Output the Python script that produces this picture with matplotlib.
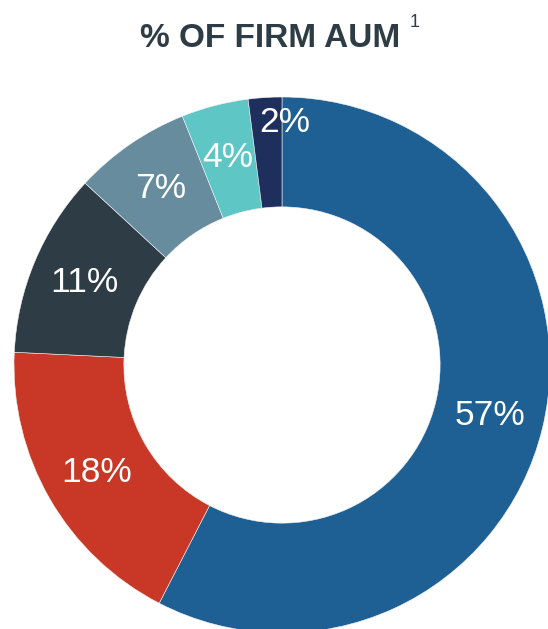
import matplotlib
matplotlib.use("Agg")
import matplotlib.pyplot as plt
import numpy as np

# Share of firm assets under management by segment (clockwise from 12 o'clock)
shares = [57, 18, 11, 7, 4, 2]
labels = ["57%", "18%", "11%", "7%", "4%", "2%"]
colors = ["#1f6094", "#c93826", "#2e3c46", "#668c9e", "#5fc6c6", "#1e2f5e"]

plt.rcParams["font.family"] = ["Liberation Sans", "DejaVu Sans"]

W, H = 548, 629
fig = plt.figure(figsize=(W / 100, H / 100), dpi=100)
ax = fig.add_axes([0, 0, 1, 1])

# donut centre and outer radius in pixels
cx, cy, R = 282, 365, 268
ring_width = 0.41

wedges, _ = ax.pie(shares, colors=colors, startangle=90, counterclock=False,
                   radius=1.0, wedgeprops=dict(width=ring_width, edgecolor="#f2f2f2",
                                               linewidth=0.4))

# percentage labels at the middle of each ring segment
total = float(sum(shares))
start = 90.0
label_r = 0.8
for i, (v, txt) in enumerate(zip(shares, labels)):
    sweep = v / total * 360.0
    mid = np.deg2rad(start - sweep / 2)
    r = label_r
    ang = mid
    if i == len(shares) - 1:
        # smallest slice: push label outward so it stays readable
        r = 0.905
        ang = np.deg2rad(89.3)
    ax.text(r * np.cos(ang), r * np.sin(ang), txt, ha="center", va="center",
            color="white", fontsize=25.5)
    start -= sweep

ax.set_xlim(-cx / R, (W - cx) / R)
ax.set_ylim((cy - H) / R, cy / R)
ax.set_aspect("auto")
ax.axis("off")

title_color = "#2e3c46"
fig.text(270 / W, 1 - 47 / H, "% OF FIRM AUM", ha="center", va="baseline",
         fontsize=24, fontweight="bold", color=title_color)
fig.text(410 / W, 1 - 27 / H, "1", ha="left", va="baseline",
         fontsize=13, color=title_color)

fig.savefig("out.png", dpi=100, facecolor="white")
